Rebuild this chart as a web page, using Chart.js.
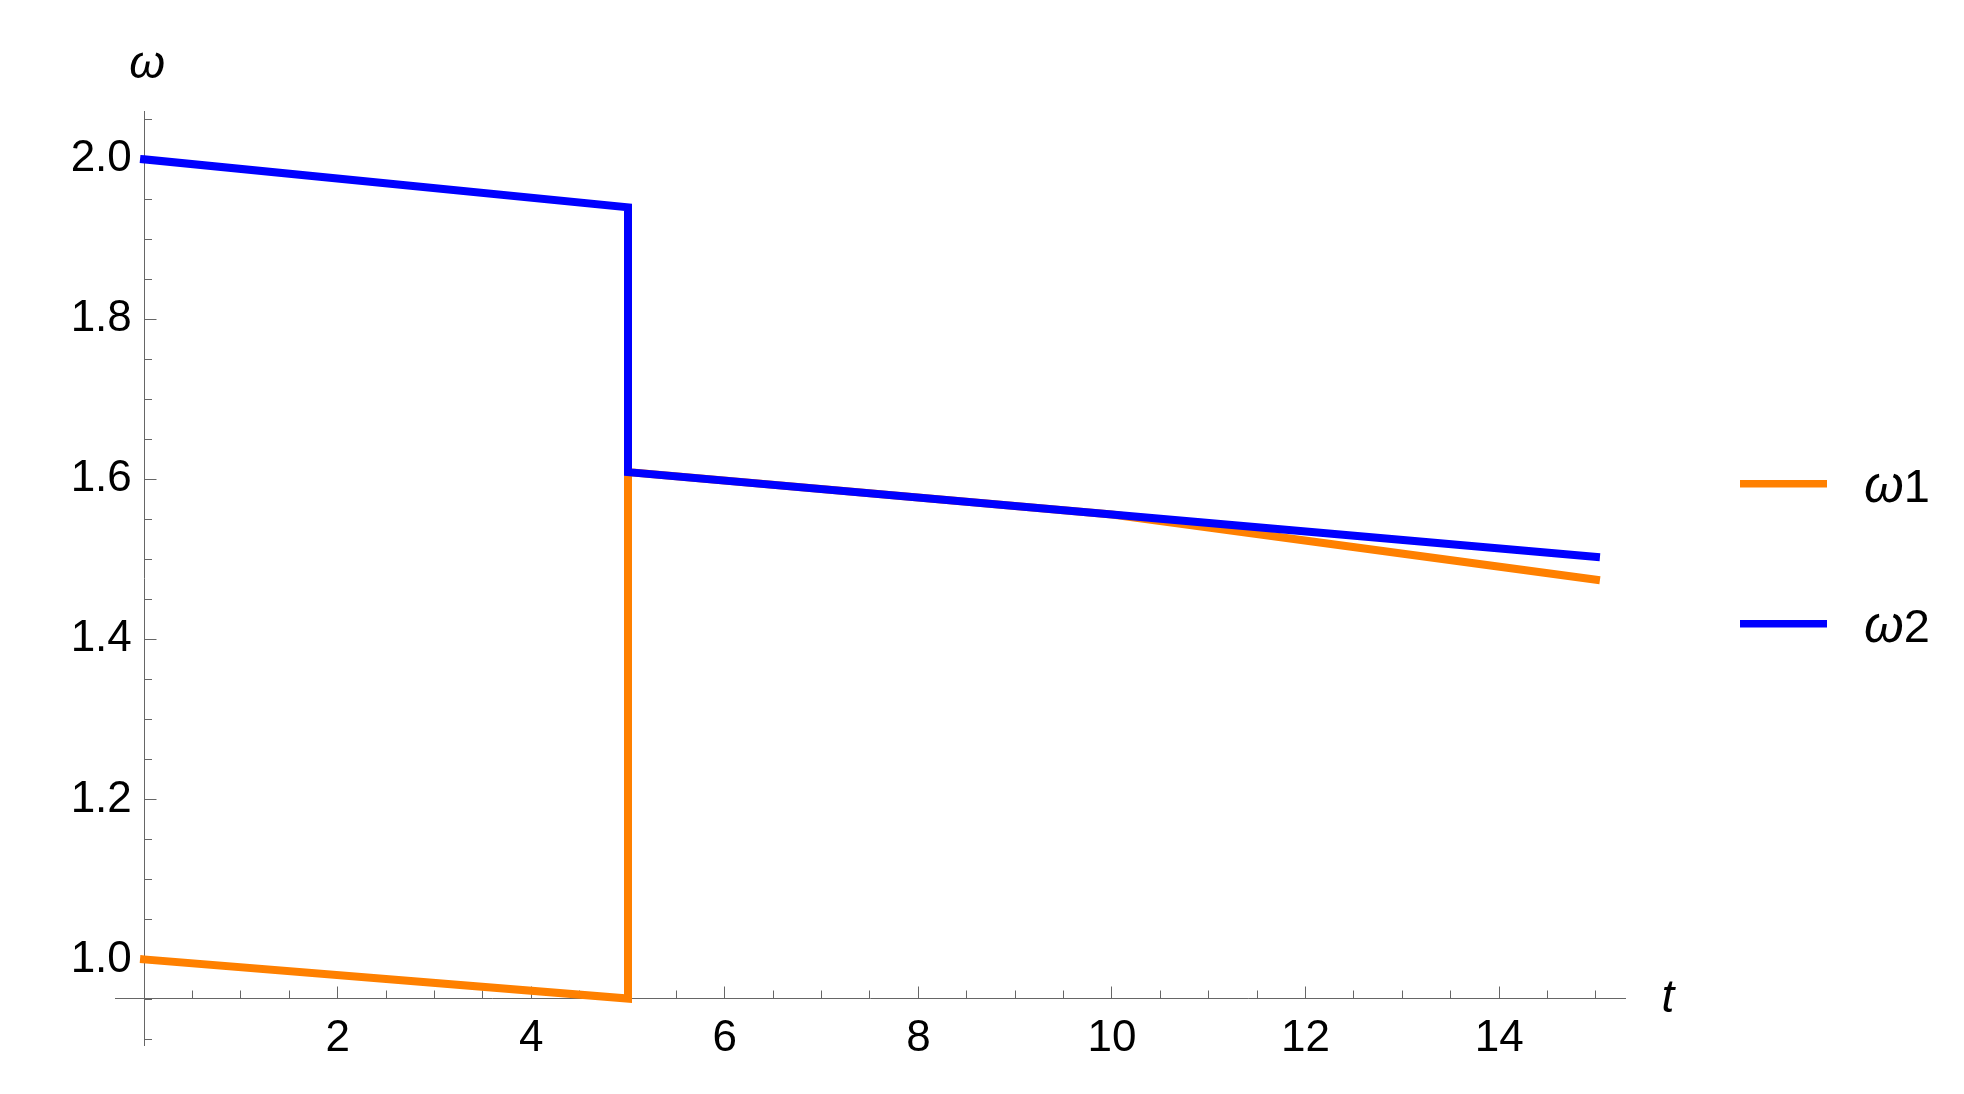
<!DOCTYPE html>
<html>
<head>
<meta charset="utf-8">
<title>omega vs t</title>
<script src="https://cdn.jsdelivr.net/npm/chart.js@4.4.0/dist/chart.umd.min.js"></script>
<style>
  html, body { margin: 0; padding: 0; background: #fff; }
  #wrap { width: 1964px; height: 1094px; }
</style>
</head>
<body>
<div id="wrap"><canvas id="omegaChart" width="1964" height="1094"></canvas></div>
<script>
// values (t, then omega for each series)
const tValues = [0, 5, 5, 10, 15];
const omega1 = [1.0, 0.951, 1.609, 1.556, 1.4745];
const omega2 = [2.0, 1.94, 1.609, 1.556, 1.503];

const seriesNames = ['ω1', 'ω2'];

const xTicks = [2, 4, 6, 8, 10, 12, 14];
const xTickLabels = ['2', '4', '6', '8', '10', '12', '14'];
const yTicks = [1.0, 1.2, 1.4, 1.6, 1.8, 2.0];
const yTickLabels = ['1.0', '1.2', '1.4', '1.6', '1.8', '2.0'];

// plot range and where the t axis crosses
const xRange = [-0.3, 15.3];
const yRange = [0.893, 2.0595];
const xAxisAt = 0.9515;

const AXIS_GREY = '#666666';
const FONT = '"Liberation Sans", Arial, sans-serif';

const toPoints = vals => vals.map((v, i) => ({ x: tValues[i], y: v }));

// axis names: italic omega over the vertical axis, t after the horizontal one
const axisNames = {
  id: 'axisNames',
  afterDraw(chart) {
    const { ctx, chartArea, scales } = chart;
    const x0 = scales.x.getPixelForValue(0);
    const yCross = scales.y.getPixelForValue(xAxisAt);
    ctx.save();
    ctx.fillStyle = '#000';
    ctx.font = 'italic 46px ' + FONT;
    ctx.textAlign = 'center';
    ctx.textBaseline = 'middle';
    ctx.fillText('ω', x0 + 3, chartArea.top - 46);
    ctx.fillText('t', chartArea.right + 43, yCross + 1);
    ctx.restore();
  }
};

// legend on the right: line sample, then italic omega and upright index
const sideLegend = {
  id: 'sideLegend',
  afterDraw(chart) {
    const { ctx, chartArea } = chart;
    const lineLeft = chartArea.right + 115;
    const lineRight = chartArea.right + 202;
    const textLeft = chartArea.right + 239;
    ctx.save();
    chart.data.datasets.forEach((ds, i) => {
      const y = chartArea.top + 372 + i * 140;
      ctx.strokeStyle = ds.borderColor;
      ctx.lineWidth = 7.5;
      ctx.lineCap = 'butt';
      ctx.beginPath();
      ctx.moveTo(lineLeft, y);
      ctx.lineTo(lineRight, y);
      ctx.stroke();

      const greek = ds.label.slice(0, 1);
      const index = ds.label.slice(1);
      ctx.fillStyle = '#000';
      ctx.textAlign = 'left';
      ctx.textBaseline = 'alphabetic';
      ctx.font = 'italic 51px ' + FONT;
      ctx.fillText(greek, textLeft, y + 18);
      const w = ctx.measureText(greek).width;
      ctx.font = '47px ' + FONT;
      ctx.fillText(index, textLeft + w, y + 18);
    });
    ctx.restore();
  }
};

const tickFont = { family: FONT, size: 44 };

new Chart(document.getElementById('omegaChart').getContext('2d'), {
  type: 'scatter',
  data: {
    datasets: [
      {
        label: seriesNames[0],
        data: toPoints(omega1),
        borderColor: '#ff8000',
        backgroundColor: '#ff8000',
        order: 1,
      },
      {
        label: seriesNames[1],
        data: toPoints(omega2),
        borderColor: '#0000ff',
        backgroundColor: '#0000ff',
        order: 0,
      },
    ],
  },
  options: {
    responsive: false,
    animation: false,
    devicePixelRatio: 1,
    showLine: true,
    elements: {
      point: { radius: 0, hoverRadius: 0 },
      line: { borderWidth: 8, tension: 0, borderCapStyle: 'square', borderJoinStyle: 'miter', fill: false },
    },
    layout: { padding: { left: 115, top: 111.7, right: 339, bottom: 49 } },
    plugins: {
      legend: { display: false },
      tooltip: { enabled: false },
    },
    scales: {
      x: {
        type: 'linear',
        min: xRange[0],
        max: xRange[1],
        position: { y: xAxisAt },
        afterBuildTicks: axis => {
          axis.ticks = xTicks.map(v => ({ value: v }));
        },
        ticks: {
          callback: (v, i) => xTickLabels[i],
          font: tickFont,
          color: '#000',
          padding: 27,
          maxRotation: 0,
          autoSkip: false,
        },
        grid: { drawOnChartArea: false, drawTicks: true, tickLength: -12.5, color: AXIS_GREY, lineWidth: 1 },
        border: { display: true, color: AXIS_GREY, width: 1 },
      },
      xMinor: {
        type: 'linear',
        axis: 'x',
        min: xRange[0],
        max: xRange[1],
        position: { y: xAxisAt },
        ticks: { display: false, stepSize: 0.5, includeBounds: false },
        grid: { drawOnChartArea: false, drawTicks: true, tickLength: -7.5, color: AXIS_GREY, lineWidth: 1 },
        border: { display: false },
      },
      y: {
        type: 'linear',
        min: yRange[0],
        max: yRange[1],
        position: { x: 0 },
        afterBuildTicks: axis => {
          axis.ticks = yTicks.map(v => ({ value: v }));
        },
        ticks: {
          // trailing space keeps the labels clear of the axis line
          callback: (v, i) => yTickLabels[i] + ' ',
          font: tickFont,
          color: '#000',
          padding: 12.5,
          autoSkip: false,
        },
        grid: { drawOnChartArea: false, drawTicks: true, tickLength: -12.5, color: AXIS_GREY, lineWidth: 1 },
        border: { display: true, color: AXIS_GREY, width: 1 },
      },
      yMinor: {
        type: 'linear',
        axis: 'y',
        min: yRange[0],
        max: yRange[1],
        position: { x: 0 },
        ticks: { display: false, stepSize: 0.05, includeBounds: false },
        grid: { drawOnChartArea: false, drawTicks: true, tickLength: -8, color: AXIS_GREY, lineWidth: 1 },
        border: { display: false },
      },
    },
  },
  plugins: [axisNames, sideLegend],
});
</script>
</body>
</html>
